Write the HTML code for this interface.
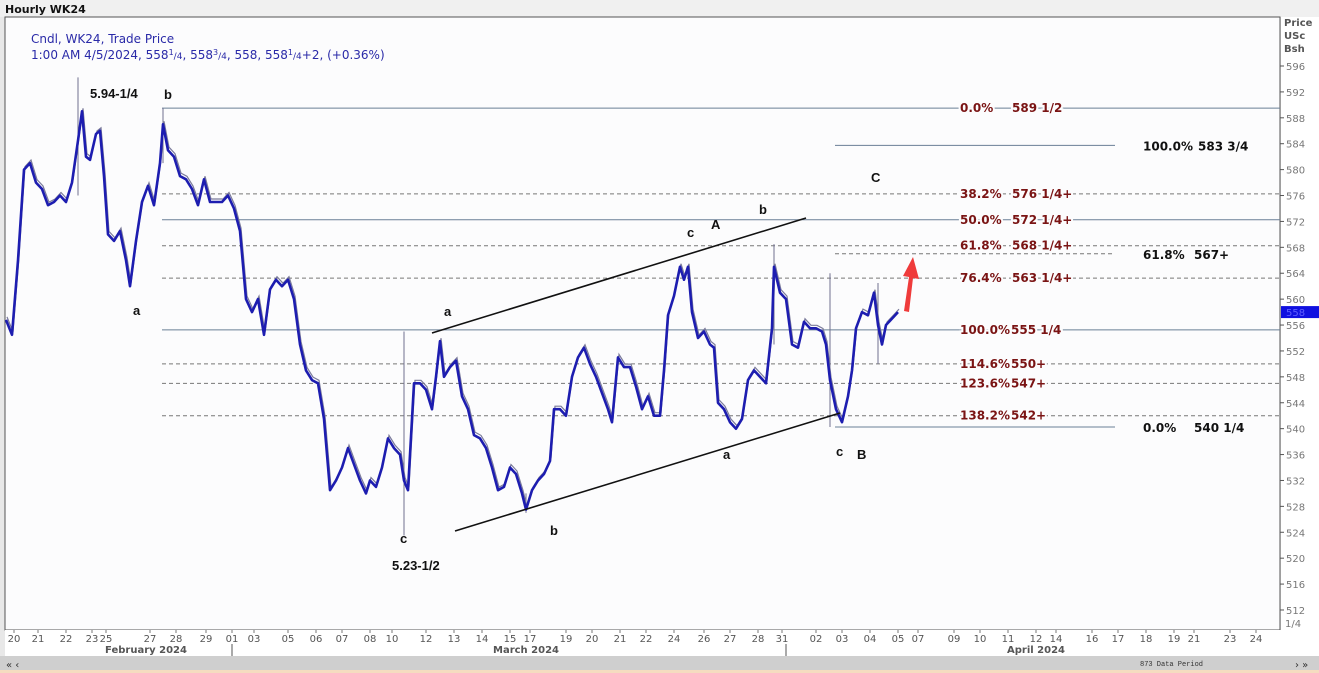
<!DOCTYPE html>
<html><head><meta charset="utf-8"><style>
html,body{margin:0;padding:0;background:#fff;}
body{width:1319px;height:673px;overflow:hidden;position:relative;font-family:"DejaVu Sans","Liberation Sans",sans-serif;}
svg{position:absolute;left:0;top:0;}
</style></head><body>
<svg id="chart" width="1319" height="673" viewBox="0 0 1319 673">
<rect x="0" y="0" width="1319" height="673" fill="#e8e8e8"/>
<rect x="0" y="0" width="1319" height="17" fill="#f0f0f0"/>
<text x="5" y="13" font-size="11" font-weight="bold" fill="#111">Hourly WK24</text>
<rect x="5" y="17" width="1275" height="613" fill="#fcfcfd" stroke="#555" stroke-width="1"/>
<rect x="1281" y="17" width="38" height="613" fill="#fff"/>
<rect x="5" y="630" width="1314" height="26" fill="#fff"/>
<rect x="0" y="656" width="1319" height="17" fill="#cfcfcf"/>
<rect x="0" y="670" width="1319" height="3" fill="#f5dcc0"/>
<text x="6" y="668" font-size="10" fill="#333">« ‹</text>
<text x="1295" y="668" font-size="10" fill="#333">› »</text>
<text x="1140" y="666" font-size="7" font-family="Liberation Mono,monospace" fill="#333">873 Data Period</text>
<text x="31" y="43" font-size="12" fill="#2a2aa8" font-family="DejaVu Sans,sans-serif">Cndl, WK24, Trade Price</text>
<text x="31" y="59" font-size="12" fill="#2a2aa8">1:00 AM 4/5/2024, 558<tspan font-size="8" dy="-4">1</tspan><tspan font-size="9" dy="4">/4</tspan>, 558<tspan font-size="8" dy="-4">3</tspan><tspan font-size="9" dy="4">/4</tspan>, 558, 558<tspan font-size="8" dy="-4">1</tspan><tspan font-size="9" dy="4">/4</tspan>+2, (+0.36%)</text>
<g id="grid"></g>
<g id="series"></g>
<g id="ann"></g>
<g id="axes"></g>
</svg>
<script>
// ---- data ----
const priceTicks=[596,592,588,584,580,576,572,568,564,560,556,552,548,544,540,536,532,528,524,520,516,512];
const dayLabels=["20","21","22","23","25","27","28","29","01","03","05","06","07","08","10","12","13","14","15","17","19","20","21","22","24","26","27","28","31","02","03","04","05","07","09","10","11","12","14","16","17","18","19","21","23","24"];
const dayBars=[4,16,30,43,50,72,85,100,113,124,141,155,168,182,193,210,224,238,252,262,280,293,307,320,334,349,362,376,388,405,418,432,446,456,474,487,501,515,525,543,556,570,584,594,612,625];
const monthLabels=["February 2024","March 2024","April 2024"];
const monthBars=[70,260,515];
const monthSeps=[113,390];
const bars=[0,3,6,9,12,15,18,21,24,27,30,33,36,38,40,42,45,47,49,51,54,57,60,62,65,68,71,74,77,78.5,81,84,87,90,93,96,99,102,105,108,111,114,117,120,123,126,129,132,135,138,141,144,147,150,153,156,159,162,165,168,171,174,177,180,182,185,188,191,194,197,199,201,204,207,210,213,215,217,219,222,225,228,231,234,237,240,243,246,249,252,255,258,260,263,266,269,272,274,277,280,283,286,289,292,295,298,301,303,306,309,312,315,318,321,324,327,329,331,334,337,339,341,343,346,349,352,354,356,359,362,365,368,371,374,377,380,383,384,387,390,393,396,399,402,405,408,410,412,415,418,421,423,425,428,431,434,436,438,440,443,446];
const closes=[556.8,554.5,566,580,581,578,577,574.5,575,576,575,578,584.5,589,582,581.5,585.5,586,579,570,569,570.5,566,562,569,575,577.5,574.5,581,587,583,582,579,578.5,577,574.5,578.5,575,575,575,576,574,570.5,560,558,560,554.5,561.5,563,562,563,560,553,549,547.5,547,541.5,530.5,532,534,537,534.5,532,530,532,531,534,538.5,537,536,532,530.5,547,547,546,543,548,553.5,548,549.5,550.5,545,543,539,538.5,537,534,530.5,531,534,533,530,527.5,530.5,532,533,535,543,543,542,548,551,552.5,550,548,545.5,543,541,551,549.5,549.5,546.5,543,545,542,542,549,557.5,560.5,565,563,565,558,554,555,553,552.5,544,543,541,540,541.5,547.5,549,548,547,555.5,565,561,560,553,552.5,556.5,555.5,555.5,555,553,547.5,543,541,545,549,555.5,558,557.5,561,556,553,556,557,558];
const spikeBars=[36,78.5,199,260,384,412,436];
const spikeHighs=[594.25,589.5,555,530,568.5,564,562.5];
const spikeLows=[576,581,523.5,527,553,540.25,550];
// Fibonacci levels
const fibPrices=[589.5,576.25,572.25,568.25,563.25,555.25,550,547,542];
const fibDashed=[false,true,false,true,true,false,true,true,true];
const fibPct=["0.0%","38.2%","50.0%","61.8%","76.4%","100.0%","114.6%","123.6%","138.2%"];
const fibVal=["589 1/2","576 1/4+","572 1/4+","568 1/4+","563 1/4+","555 1/4","550+","547+","542+"];
const projPrices=[583.75,567,540.25];
const projDashed=[false,true,false];
const projPct=["100.0%","61.8%","0.0%"];
const projVal=["583 3/4","567+","540 1/4"];
const lastPrice=558;

// ---- scales ----
const X0=6, XS=2;
const x=b=>X0+b*XS;
const y=p=>66+(596-p)*6.476;
const NS="http://www.w3.org/2000/svg";
function mk(tag,attrs,parent,txt){const e=document.createElementNS(NS,tag);for(const k in attrs)e.setAttribute(k,attrs[k]);if(txt!==undefined)e.textContent=txt;document.getElementById(parent).appendChild(e);return e;}

priceTicks.forEach(p=>{
 const t=mk('line',{x1:1280,x2:1284,y1:y(p),y2:y(p),stroke:'#555'},'axes');
 
 
 const l=mk('text',{x:1286,y:y(p)+4,'font-size':10,fill:'#777'},'axes',String(p));
 
 
});
[["Price",26],["USc",39],["Bsh",52]].forEach(a=>{
 const l=mk('text',{x:1284,y:a[1],'font-size':10,fill:'#555','font-weight':'bold'},'axes',a[0]);
 
 
});
{const l=mk('text',{x:1285,y:627,'font-size':10,fill:'#777'},'axes','1/4');
 
 }
dayLabels.forEach((d,i)=>{
 const t=mk('line',{x1:x(dayBars[i]),x2:x(dayBars[i]),y1:630,y2:633,stroke:'#777'},'axes');
 
 
 const l=mk('text',{x:x(dayBars[i]),y:642,'font-size':10,fill:'#555','text-anchor':'middle'},'axes',d);
 
 
});
monthLabels.forEach((m,i)=>{
 const l=mk('text',{x:x(monthBars[i]),y:653,'font-size':10,'font-weight':'bold',fill:'#555','text-anchor':'middle'},'axes',m);
 
 
});
monthSeps.forEach(b=>{
 const s=mk('line',{x1:x(b),x2:x(b),y1:644,y2:656,stroke:'#555'},'axes');
 
 
});

fibPrices.forEach((p,i)=>{
 const ln=mk('line',{x1:162,x2:1280,y1:y(p),y2:y(p),stroke:fibDashed[i]?'#777':'#6a7f96','stroke-width':1,'stroke-dasharray':fibDashed[i]?'4,3':'none'},'grid');
 
 
 const g=mk('text',{x:960,y:y(p)+4,'font-size':12,'font-weight':'bold',fill:'#7a1414',style:'paint-order:stroke',stroke:'#fcfcfd','stroke-width':4},'ann',fibPct[i]);
 
 
 const v=mk('text',{x:fibPct[i].length>5?1011:1012,y:y(p)+4,'font-size':12,'font-weight':'bold',fill:'#7a1414',style:'paint-order:stroke',stroke:'#fcfcfd','stroke-width':4},'ann',fibVal[i]);
 
 
});
projPrices.forEach((p,i)=>{
 const ln=mk('line',{x1:835,x2:1115,y1:y(p),y2:y(p),stroke:projDashed[i]?'#777':'#6a7f96','stroke-dasharray':projDashed[i]?'4,3':'none'},'grid');
 
 
 const g=mk('text',{x:1143,y:y(p)+5,'font-size':12,'font-weight':'bold',fill:'#111'},'ann',projPct[i]);
 
 
 const v=mk('text',{x:projPct[i]==="100.0%"?1198:1194,y:y(p)+5,'font-size':12,'font-weight':'bold',fill:'#111'},'ann',projVal[i]);
 
 
});

spikeBars.forEach((b,i)=>{
 const s=mk('line',{x1:x(b),x2:x(b),y1:y(spikeHighs[i]),y2:y(spikeLows[i]),stroke:'#707090','stroke-width':1},'series');
 
 
});
let d='';
bars.forEach((b,i)=>{d+=(i?'L':'M')+x(b).toFixed(1)+','+y(closes[i]).toFixed(1);});
const path2=mk('path',{d:d,fill:'none',stroke:'#7a7a9a','stroke-width':1.2,transform:'translate(1,-3)'},'series');


const path=mk('path',{d:d,fill:'none',stroke:'#1d1db0','stroke-width':2.6,'stroke-linejoin':'round'},'series');



{const r=mk('rect',{x:1281,y:y(lastPrice)-6,width:38,height:12,fill:'#1010e0'},'axes');
 
 
 const t=mk('text',{x:1286,y:y(lastPrice)+4,'font-size':10,fill:'#5f5fff'},'axes',String(lastPrice));
 
 }

[[432,333,806,218,'channel-upper-line'],[455,531,840,413,'channel-lower-line']].forEach(c=>{
 const l=mk('line',{x1:c[0],y1:c[1],x2:c[2],y2:c[3],stroke:'#111','stroke-width':1.6},'ann');
 
 
});
[["5.94-1/4",90,98],["b",164,99],["a",133,315],["c",400,543],["5.23-1/2",392,570],["a",444,316],["b",550,535],["c",687,237],["A",711,229],["b",759,214],["C",871,182],["a",723,459],["c",836,456],["B",857,459]].forEach(a=>{
 const t=mk('text',{x:a[1],y:a[2],'font-size':13,'font-weight':'bold',fill:'#111','font-family':'Liberation Sans,sans-serif'},'ann',a[0]);
 
 
});
{const a=mk('path',{d:'M904,311 L909,277 L903,276 L913,257 L919,279 L913,278 L909,312 Z',fill:'#ef3b3b'},'ann');
 
 }
</script>
</body></html>
